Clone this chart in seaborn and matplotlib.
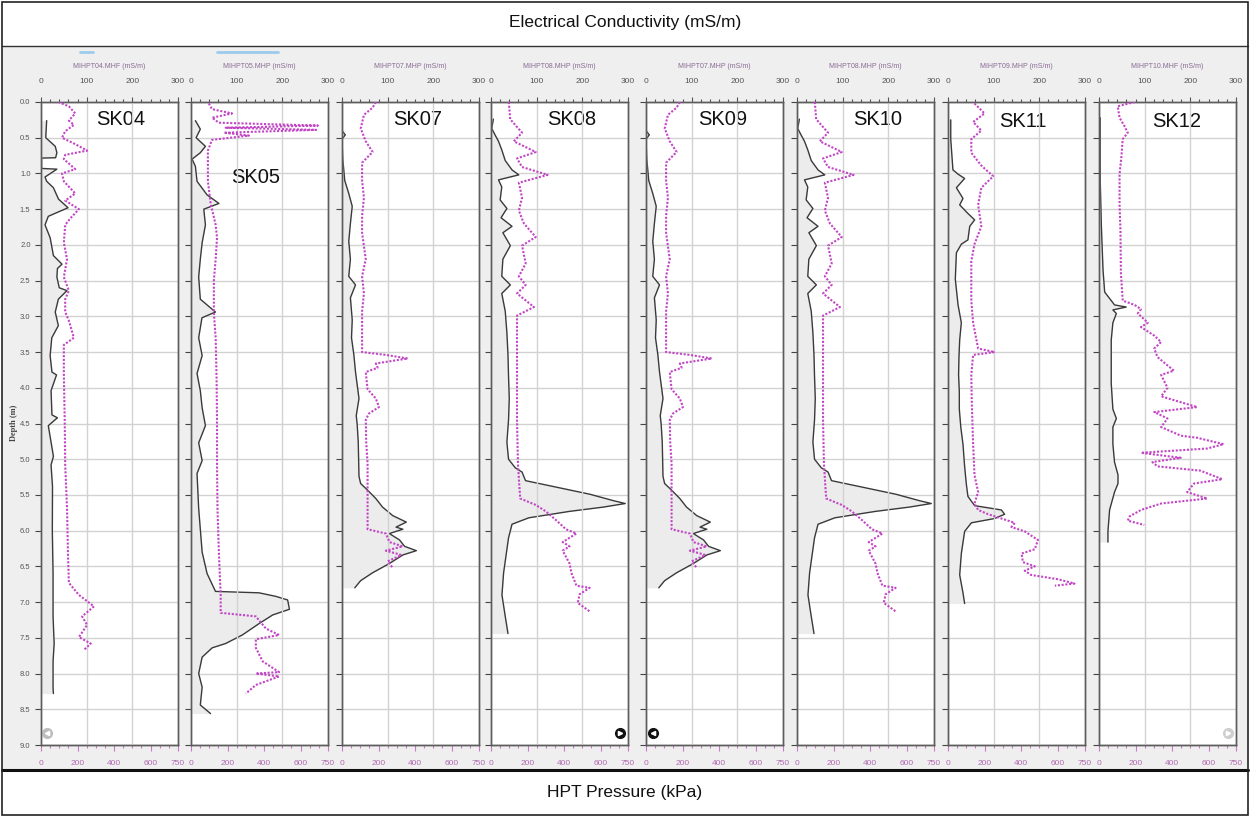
import numpy as np
import matplotlib
matplotlib.use("Agg")
import matplotlib.pyplot as plt
import seaborn as sns
from matplotlib.ticker import MultipleLocator, FormatStrFormatter
from matplotlib.patches import Rectangle
from matplotlib.lines import Line2D

# ---------------- data ----------------
soundings = ["SK04", "SK05", "SK07", "SK08", "SK09", "SK10", "SK11", "SK12"]
file_labels = ["MIHPT04.MHF (mS/m)", "MIHPT05.MHP (mS/m)", "MIHPT07.MHP (mS/m)",
               "MIHPT08.MHP (mS/m)", "MIHPT07.MHP (mS/m)", "MIHPT08.MHP (mS/m)",
               "MIHPT09.MHP (mS/m)", "MIHPT10.MHF (mS/m)"]
depth_ticks = [0.0, 0.5, 1.0, 1.5, 2.0, 2.5, 3.0, 3.5, 4.0, 4.5, 5.0, 5.5,
               6.0, 6.5, 7.0, 7.5, 8.0, 8.5, 9.0]
ec_ticks = [0, 100, 200, 300]
hpt_ticks = [0, 200, 400, 600, 750]

# SK04
sk04_hpt_depth = [0.26, 0.50, 0.62, 0.71, 0.78, 0.785, 0.93, 0.94, 1.05, 1.11, 1.20, 1.36, 1.48, 1.60,
                  1.72, 1.90, 2.15, 2.27, 2.33, 2.45, 2.60, 2.64, 2.76, 2.94, 3.13, 3.30, 3.55, 3.78,
                  3.82, 4.04, 4.38, 4.42, 4.53, 4.96, 5.08, 5.38, 6.00, 6.60, 7.20, 7.58, 7.83, 8.20, 8.28]
sk04_hpt_kpa = [31, 26, 78, 87, 80, 3, 3, 87, 22, 31, 68, 96, 148, 40,
                22, 50, 68, 115, 90, 87, 100, 142, 95, 78, 95, 59, 50, 60,
                85, 55, 60, 90, 40, 68, 55, 63, 62, 66, 66, 72, 66, 66, 68]
sk04_ec_depth = [0.00, 0.06, 0.16, 0.26, 0.32, 0.41, 0.50, 0.59, 0.68, 0.74, 0.80, 0.94, 1.00, 1.11,
                 1.28, 1.38, 1.50, 1.63, 1.72, 1.97, 2.20, 2.45, 2.64, 2.76, 2.94, 3.06, 3.30, 3.40,
                 3.80, 4.47, 5.08, 5.69, 6.30, 6.73, 6.90, 7.06, 7.20, 7.32, 7.49, 7.58, 7.67]
sk04_ec_ms = [38, 61, 75, 61, 72, 53, 46, 75, 101, 53, 50, 75, 46, 50,
              75, 53, 83, 64, 53, 50, 57, 50, 61, 53, 53, 61, 72, 50,
              50, 52, 53, 57, 59, 61, 83, 116, 90, 101, 83, 109, 94]

# SK05
sk05_hpt_depth = [0.26, 0.38, 0.50, 0.62, 0.71, 0.80, 0.90, 1.11, 1.30, 1.42, 1.50, 1.72, 1.97, 2.20,
                  2.45, 2.76, 2.94, 3.02, 3.30, 3.55, 3.80, 4.04, 4.28, 4.53, 4.77, 5.02, 5.20, 5.69,
                  6.30, 6.60, 6.85, 6.87, 6.92, 6.97, 7.10, 7.18, 7.30, 7.46, 7.58, 7.64, 7.77, 8.00,
                  8.19, 8.44, 8.56]
sk05_hpt_kpa = [24, 51, 28, 79, 51, 6, 24, 33, 88, 153, 70, 79, 61, 51,
                42, 51, 134, 60, 42, 61, 33, 51, 61, 79, 42, 61, 33, 42,
                61, 88, 134, 373, 465, 529, 539, 447, 373, 281, 189, 116, 61, 42,
                61, 51, 107]
sk05_ec_depth = [0.02, 0.10, 0.16, 0.22, 0.29, 0.33, 0.36, 0.39, 0.43, 0.47, 0.53, 0.68, 1.11, 1.42,
                 1.72, 1.90, 2.20, 2.50, 2.94, 3.30, 3.86, 4.47, 5.08, 5.69, 6.30, 6.90, 7.15, 7.20,
                 7.37, 7.46, 7.52, 7.64, 7.83, 7.98, 8.00, 8.04, 8.16, 8.28]
sk05_ec_ms = [39, 46, 90, 46, 61, 278, 76, 274, 72, 127, 46, 37, 37, 43,
              54, 57, 54, 50, 50, 54, 56, 57, 57, 58, 61, 65, 65, 142,
              164, 193, 142, 142, 157, 193, 142, 193, 142, 120]

# SK07
sk07_hpt_depth = [0.40, 0.46, 0.52, 0.79, 1.10, 1.28, 1.46, 1.70, 1.95, 2.20, 2.44, 2.56, 2.74, 3.05,
                  3.30, 3.54, 3.78, 4.15, 4.39, 4.51, 4.76, 5.24, 5.34, 5.43, 5.55, 5.67, 5.79, 5.88,
                  5.95, 5.98, 6.04, 6.13, 6.22, 6.28, 6.34, 6.46, 6.59, 6.70, 6.80]
sk07_hpt_kpa = [0, 18, 0, 4, 15, 37, 56, 46, 37, 46, 37, 74, 46, 56,
                52, 65, 74, 93, 78, 83, 89, 93, 102, 139, 185, 222, 278, 352,
                296, 333, 259, 315, 343, 407, 333, 259, 167, 102, 70]
sk07_ec_depth = [0.00, 0.08, 0.18, 0.37, 0.55, 0.70, 0.85, 1.10, 1.34, 1.59, 1.83, 2.20, 2.44, 2.68,
                 2.93, 3.29, 3.50, 3.54, 3.59, 3.66, 3.72, 3.78, 4.02, 4.15, 4.27, 4.36, 4.45, 4.76,
                 5.06, 5.37, 5.67, 5.98, 6.04, 6.16, 6.22, 6.28, 6.34, 6.43, 6.52]
sk07_ec_ms = [74, 67, 48, 41, 52, 67, 44, 44, 48, 44, 44, 52, 44, 48,
              44, 44, 44, 96, 144, 74, 78, 52, 56, 74, 81, 59, 52, 53,
              56, 56, 56, 56, 96, 104, 133, 96, 130, 100, 111]

# SK08
sk08_hpt_depth = [0.24, 0.37, 0.46, 0.55, 0.67, 0.82, 0.95, 1.02, 1.09, 1.19, 1.37, 1.49, 1.62, 1.74,
                  1.83, 2.01, 2.20, 2.44, 2.56, 2.68, 2.93, 3.23, 3.54, 3.84, 4.15, 4.45, 4.76, 5.00,
                  5.12, 5.18, 5.30, 5.37, 5.49, 5.58, 5.62, 5.67, 5.73, 5.82, 5.91, 6.10, 6.59, 6.90,
                  7.20, 7.44]
sk08_hpt_kpa = [13, 4, 22, 41, 59, 78, 115, 152, 41, 59, 50, 87, 55, 115,
                65, 106, 65, 59, 106, 59, 78, 87, 93, 96, 100, 96, 87, 96,
                133, 170, 189, 319, 541, 670, 735, 615, 430, 207, 115, 96, 69, 60,
                78, 93]
sk08_ec_depth = [0.00, 0.24, 0.43, 0.55, 0.70, 0.79, 0.91, 1.02, 1.13, 1.34, 1.52, 1.70, 1.89, 2.01,
                 2.26, 2.44, 2.56, 2.68, 2.87, 2.99, 3.30, 4.00, 4.45, 5.06, 5.37, 5.55, 5.64, 5.73,
                 5.85, 5.98, 6.04, 6.16, 6.22, 6.28, 6.46, 6.59, 6.77, 6.80, 6.89, 7.01, 7.13]
sk08_ec_ms = [39, 42, 68, 50, 98, 57, 68, 124, 61, 68, 61, 72, 98, 68,
              76, 61, 76, 57, 94, 57, 57, 57, 57, 59, 62, 64, 98, 120,
              142, 164, 187, 157, 172, 157, 172, 176, 187, 216, 194, 190, 216]

# SK09 and SK10 show the same logs as SK07 / SK08 (file labels MIHPT07 / MIHPT08)
sk09_hpt_depth, sk09_hpt_kpa = sk07_hpt_depth, sk07_hpt_kpa
sk09_ec_depth, sk09_ec_ms = sk07_ec_depth, sk07_ec_ms
sk10_hpt_depth, sk10_hpt_kpa = sk08_hpt_depth, sk08_hpt_kpa
sk10_ec_depth, sk10_ec_ms = sk08_ec_depth, sk08_ec_ms

# SK11
sk11_hpt_depth = [0.25, 0.52, 0.95, 1.01, 1.07, 1.20, 1.35, 1.44, 1.56, 1.65, 1.74, 1.93, 1.99, 2.11,
                  2.48, 2.84, 3.09, 3.33, 3.57, 3.82, 4.06, 4.30, 4.55, 4.79, 5.10, 5.34, 5.52, 5.65,
                  5.71, 5.77, 5.83, 5.89, 6.01, 6.32, 6.62, 6.87, 7.02]
sk11_hpt_kpa = [15, 15, 27, 55, 91, 46, 82, 64, 109, 146, 119, 109, 73, 46,
                40, 55, 73, 64, 60, 58, 62, 62, 70, 82, 91, 100, 109, 146,
                292, 310, 255, 128, 91, 73, 64, 82, 91]
sk11_ec_depth = [0.02, 0.16, 0.28, 0.40, 0.52, 0.71, 0.89, 1.04, 1.20, 1.44, 1.74, 1.99, 2.23, 2.48,
                 2.78, 3.09, 3.45, 3.50, 3.54, 3.82, 4.18, 4.79, 5.22, 5.46, 5.62, 5.71, 5.77, 5.83,
                 5.89, 5.95, 6.01, 6.13, 6.26, 6.32, 6.44, 6.50, 6.56, 6.62, 6.68, 6.74, 6.77]
sk11_ec_ms = [58, 80, 55, 73, 51, 51, 73, 99, 73, 66, 73, 58, 51, 51,
              51, 55, 66, 102, 55, 51, 52, 55, 58, 66, 58, 66, 88, 117,
              146, 139, 168, 197, 190, 161, 164, 190, 168, 182, 241, 277, 234]

# SK12
sk12_hpt_depth = [0.22, 1.13, 1.74, 2.35, 2.66, 2.84, 2.87, 2.91, 2.96, 3.09, 3.33, 3.57, 3.94, 4.30,
                  4.43, 4.55, 4.79, 5.04, 5.22, 5.34, 5.46, 5.71, 6.01, 6.16]
sk12_hpt_kpa = [7, 7, 13, 22, 31, 85, 149, 76, 95, 76, 67, 67, 67, 76,
                95, 76, 76, 85, 104, 104, 85, 58, 49, 49]
sk12_ec_depth = [0.00, 0.06, 0.22, 0.34, 0.43, 0.52, 0.77, 1.01, 1.44, 1.80, 2.40, 2.78, 2.84, 2.90,
                 2.96, 3.09, 3.15, 3.27, 3.36, 3.45, 3.57, 3.76, 3.82, 4.00, 4.12, 4.27, 4.34, 4.43,
                 4.55, 4.67, 4.70, 4.79, 4.85, 4.91, 4.98, 5.04, 5.10, 5.16, 5.28, 5.34, 5.46, 5.55,
                 5.62, 5.71, 5.80, 5.86, 5.92]
sk12_ec_ms = [78, 41, 45, 56, 63, 52, 49, 45, 45, 47, 48, 52, 78, 92,
              85, 107, 92, 121, 136, 121, 128, 164, 136, 150, 136, 215, 121, 150,
              136, 179, 215, 273, 237, 92, 179, 117, 128, 222, 270, 208, 193, 237,
              136, 92, 67, 63, 99]

hpt_depths = [sk04_hpt_depth, sk05_hpt_depth, sk07_hpt_depth, sk08_hpt_depth,
              sk09_hpt_depth, sk10_hpt_depth, sk11_hpt_depth, sk12_hpt_depth]
hpt_values = [sk04_hpt_kpa, sk05_hpt_kpa, sk07_hpt_kpa, sk08_hpt_kpa,
              sk09_hpt_kpa, sk10_hpt_kpa, sk11_hpt_kpa, sk12_hpt_kpa]
ec_depths = [sk04_ec_depth, sk05_ec_depth, sk07_ec_depth, sk08_ec_depth,
             sk09_ec_depth, sk10_ec_depth, sk11_ec_depth, sk12_ec_depth]
ec_values = [sk04_ec_ms, sk05_ec_ms, sk07_ec_ms, sk08_ec_ms,
             sk09_ec_ms, sk10_ec_ms, sk11_ec_ms, sk12_ec_ms]

# ---------------- layout / style ----------------
sns.set_theme(style="white")
plt.rcParams["font.family"] = ["Liberation Sans", "DejaVu Sans"]
narrow = ["Liberation Sans Narrow", "Liberation Sans", "DejaVu Sans"]

W, H = 1250, 816
fig = plt.figure(figsize=(12.5, 8.16), dpi=100)
fig.patch.set_facecolor("white")


def fx(px):
    return px / W


def fy(py):
    return 1 - py / H


# background of the image area
fig.patches.append(Rectangle((fx(3), fy(769)), fx(1244), (769 - 47) / H,
                             transform=fig.transFigure, facecolor="#efefef",
                             edgecolor="none", zorder=-10))
# outer frame & separators
fig.patches.append(Rectangle((fx(2), fy(815)), fx(1246), 813 / H, transform=fig.transFigure,
                             facecolor="none", edgecolor="#222222", lw=1.2, zorder=5))
fig.add_artist(Line2D([fx(2), fx(1248)], [fy(46), fy(46)], color="#333333", lw=1.0))
fig.add_artist(Line2D([fx(2), fx(1248)], [fy(770), fy(770)], color="#111111", lw=2.2))
fig.add_artist(Line2D([fx(80), fx(93)], [fy(52), fy(52)], color="#9ccbec", lw=2))
fig.add_artist(Line2D([fx(217), fx(278)], [fy(52), fy(52)], color="#9ccbec", lw=2))

fig.text(0.5, fy(22), "Electrical Conductivity (mS/m)", ha="center", va="center",
         fontsize=12.5, color="#111111")
fig.text(0.5, fy(793), "HPT Pressure (kPa)", ha="center", va="center",
         fontsize=12.5, color="#111111")
fig.text(fx(14), fy(423), "Depth (m)", rotation=90, ha="center", va="center",
         fontsize=6, fontweight="bold", color="#444444",
         family=["Liberation Serif", "DejaVu Serif"])

lefts = [41, 191, 342, 491, 646, 797, 948, 1099]
panel_w = 137
top_px, bot_px = 102, 745
label_pos = [(0.58, 0.25), (0.47, 1.06), (0.55, 0.25), (0.59, 0.25),
             (0.56, 0.25), (0.59, 0.25), (0.55, 0.27), (0.57, 0.27)]
icons = [(0.045, "#bdbdbd", "<"), None, None, (0.94, "#111111", ">"),
         (0.05, "#111111", "<"), None, None, (0.94, "#cfcfcf", ">")]

spine_c = "#5c5c5c"
grid_c = "#d2d2d2"
ec_c = "#c245c6"
hpt_c = "#3a3a3a"

for i, name in enumerate(soundings):
    ax = fig.add_axes([fx(lefts[i]), fy(bot_px), panel_w / W, (bot_px - top_px) / H])
    ax.set_facecolor("white")
    ax2 = ax.twiny()

    # HPT pressure (bottom axis)
    ax.fill_betweenx(hpt_depths[i], 0, hpt_values[i], color="#ececec", lw=0, zorder=1)
    sns.lineplot(x=hpt_values[i], y=hpt_depths[i], sort=False, estimator=None, ax=ax,
                 color=hpt_c, lw=1.0, legend=False, zorder=3)
    # EC (top axis)
    sns.lineplot(x=ec_values[i], y=ec_depths[i], sort=False, estimator=None, ax=ax2,
                 color=ec_c, lw=1.5, linestyle=(0, (1, 0.8)), legend=False, zorder=3)

    ax.set_xlim(0, 750)
    ax2.set_xlim(0, 300)
    ax.set_ylim(9, 0)

    ax.set_xticks(hpt_ticks)
    ax.xaxis.set_minor_locator(MultipleLocator(50))
    ax.tick_params(axis="x", which="both", direction="out", colors="#c77ac7",
                   labelsize=6, pad=7, bottom=True, top=False)
    ax.tick_params(axis="x", which="major", length=4, width=0.8)
    ax.tick_params(axis="x", which="minor", length=2.5, width=0.8)
    for t in ax.get_xticklabels():
        t.set_family(narrow)
        t.set_color("#b06ab0")

    ax.set_yticks(depth_ticks)
    ax.tick_params(axis="y", which="major", direction="out", length=4.5, width=0.8,
                   colors="#444444", labelsize=5.5, pad=3, left=True,
                   labelleft=(i == 0))
    ax.yaxis.set_major_formatter(FormatStrFormatter("%.1f"))
    for t in ax.get_yticklabels():
        t.set_family(narrow)
        t.set_color("#555555")

    ax2.set_xticks(ec_ticks)
    ax2.xaxis.set_minor_locator(MultipleLocator(20))
    ax2.tick_params(axis="x", which="both", direction="out", colors="#555555",
                    labelsize=6, pad=9, top=True, bottom=False)
    ax2.tick_params(axis="x", which="major", length=3.5, width=0.8)
    ax2.tick_params(axis="x", which="minor", length=2.5, width=0.8)
    for t in ax2.get_xticklabels():
        t.set_family(narrow)
        t.set_color("#555555")

    ax.grid(axis="y", color=grid_c, lw=1.0)
    ax.grid(axis="x", visible=False)
    ax2.grid(axis="x", color=grid_c, lw=1.0)
    ax.set_axisbelow(True)
    ax2.set_axisbelow(True)

    ax.set_xlabel("")
    ax.set_ylabel("")
    ax2.set_xlabel("")
    ax2.set_ylabel("")
    for a in (ax, ax2):
        for s in a.spines.values():
            s.set_color(spine_c)
            s.set_linewidth(1.0)

    ax.text(0.5, 1 + 35 / (bot_px - top_px), file_labels[i], transform=ax.transAxes,
            ha="center", va="center", fontsize=5, color="#8a6a95", family=narrow)
    lx, ly = label_pos[i]
    ax.text(lx, ly, name, transform=ax.get_yaxis_transform(), ha="center", va="center",
            fontsize=14.5, color="#111111", zorder=6)

    if icons[i] is not None:
        ix, icol, isym = icons[i]
        ax.plot([ix], [0.018], marker="o", ms=7, color=icol, transform=ax.transAxes,
                clip_on=False, zorder=7)
        ax.plot([ix], [0.018], marker=isym, ms=3, color="white", transform=ax.transAxes,
                clip_on=False, zorder=8)

fig.savefig("out.png", dpi=100, facecolor="white")
